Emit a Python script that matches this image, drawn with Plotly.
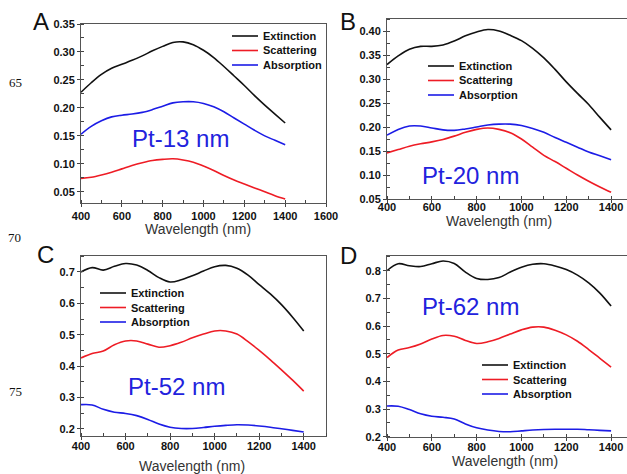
import plotly.graph_objects as go

wavelength = [400, 450, 500, 550, 600, 650, 700, 750, 800, 850, 900, 950, 1000,
              1050, 1100, 1150, 1200, 1250, 1300, 1350, 1400]

# Panel A: Pt-13 nm
a_ext = [0.228, 0.245, 0.260, 0.271, 0.278, 0.285, 0.293, 0.302, 0.310, 0.317, 0.318,
         0.313, 0.303, 0.290, 0.274, 0.257, 0.240, 0.222, 0.205, 0.189, 0.173]
a_sca = [0.074, 0.076, 0.080, 0.085, 0.091, 0.097, 0.102, 0.106, 0.108, 0.109, 0.107,
         0.103, 0.096, 0.088, 0.079, 0.071, 0.064, 0.057, 0.050, 0.043, 0.037]
a_abs = [0.153, 0.167, 0.177, 0.184, 0.187, 0.189, 0.192, 0.197, 0.203, 0.209, 0.211,
         0.211, 0.208, 0.202, 0.193, 0.182, 0.171, 0.160, 0.150, 0.142, 0.134]

# Panel B: Pt-20 nm
b_ext = [0.330, 0.348, 0.362, 0.368, 0.368, 0.371, 0.379, 0.390, 0.398, 0.403, 0.400,
         0.391, 0.380, 0.364, 0.344, 0.320, 0.294, 0.270, 0.247, 0.220, 0.194]
b_sca = [0.146, 0.153, 0.160, 0.165, 0.169, 0.174, 0.181, 0.189, 0.195, 0.198, 0.195,
         0.188, 0.175, 0.158, 0.141, 0.128, 0.114, 0.100, 0.087, 0.075, 0.064]
b_abs = [0.183, 0.195, 0.202, 0.202, 0.198, 0.194, 0.193, 0.196, 0.200, 0.204, 0.206,
         0.206, 0.203, 0.197, 0.189, 0.178, 0.168, 0.158, 0.148, 0.140, 0.132]

# Panel C: Pt-52 nm
c_ext = [0.700, 0.714, 0.706, 0.718, 0.727, 0.722, 0.705, 0.682, 0.668, 0.675, 0.688,
         0.703, 0.717, 0.721, 0.712, 0.690, 0.660, 0.630, 0.596, 0.556, 0.512]
c_sca = [0.426, 0.440, 0.448, 0.468, 0.480, 0.480, 0.470, 0.460, 0.465, 0.476, 0.490,
         0.502, 0.512, 0.512, 0.502, 0.478, 0.450, 0.420, 0.388, 0.355, 0.320]
c_abs = [0.277, 0.276, 0.262, 0.253, 0.249, 0.242, 0.230, 0.215, 0.205, 0.201, 0.201,
         0.204, 0.208, 0.211, 0.213, 0.212, 0.209, 0.205, 0.200, 0.195, 0.190]

# Panel D: Pt-62 nm
d_ext = [0.800, 0.825, 0.818, 0.815, 0.825, 0.835, 0.826, 0.795, 0.772, 0.768, 0.775,
         0.795, 0.812, 0.823, 0.825, 0.817, 0.804, 0.784, 0.756, 0.719, 0.672]
d_sca = [0.486, 0.513, 0.522, 0.535, 0.553, 0.566, 0.563, 0.548, 0.537, 0.543, 0.555,
         0.571, 0.586, 0.596, 0.596, 0.585, 0.568, 0.545, 0.515, 0.483, 0.451]
d_abs = [0.311, 0.310, 0.298, 0.283, 0.274, 0.270, 0.264, 0.246, 0.232, 0.224, 0.219,
         0.218, 0.221, 0.224, 0.226, 0.227, 0.227, 0.227, 0.225, 0.223, 0.221]

series_names = ["Extinction", "Scattering", "Absorption"]
series_colors = ["#111111", "#ee1c25", "#1c1ce6"]
panel_letters = ["A", "B", "C", "D"]
panel_labels = ["Pt-13 nm", "Pt-20 nm", "Pt-52 nm", "Pt-62 nm"]
x_title = "Wavelength (nm)"
margin_numbers = ["65", "70", "75"]

W, H = 627, 474
def px(x):
    return x / W
def py(y):
    return 1 - y / H

panels = [
    dict(data=[a_ext, a_sca, a_abs], xdom=(81, 326), ydom=(24, 203), xr=[400, 1600],
         yr=[0.03, 0.35], ydt=0.05, yfmt=".2f", xstand=0,
         legend=(232, 36), letter=(41, 21), label=(180, 138), title=(198, 229)),
    dict(data=[b_ext, b_sca, b_abs], xdom=(387, 627), ydom=(19, 199), xr=[400, 1471],
         yr=[0.05, 0.425], ydt=0.05, yfmt=".2f", xstand=-5,
         legend=(428, 66), letter=(348, 21), label=(470, 175), title=(499, 221)),
    dict(data=[c_ext, c_sca, c_abs], xdom=(81, 326), ydom=(256, 436), xr=[400, 1500],
         yr=[0.177, 0.751], ydt=0.1, yfmt=".1f", xstand=-3,
         legend=(100, 293), letter=(45, 254), label=(177, 386), title=(192, 466)),
    dict(data=[d_ext, d_sca, d_abs], xdom=(387, 627), ydom=(256, 436.7), xr=[400, 1471],
         yr=[0.2, 0.853], ydt=0.1, yfmt=".1f", xstand=-3,
         legend=(482, 365), letter=(348, 256), label=(470, 306), title=(505, 461)),
]

fig = go.Figure()
annotations = []
shapes = []
tickfont = dict(family="Arial, Liberation Sans, sans-serif", size=11, color="#111111", weight="bold")
layout_axes = {}

for i, p in enumerate(panels):
    n = "" if i == 0 else str(i + 1)
    for vals, name, col in zip(p["data"], series_names, series_colors):
        fig.add_trace(go.Scatter(x=wavelength, y=vals, mode="lines", name=name,
                                 line=dict(color=col, width=1.6, shape="spline"),
                                 xaxis="x" + n, yaxis="y" + n, showlegend=False))
    layout_axes["xaxis" + n] = dict(
        domain=[px(p["xdom"][0]), px(p["xdom"][1])], range=p["xr"], anchor="y" + n,
        tick0=400, dtick=200, ticks="outside", ticklen=3, tickcolor="#444",
        ticklabelstandoff=p["xstand"],
        showline=True, linecolor="#555", linewidth=1, mirror=True, automargin=False,
        showgrid=False, zeroline=False, tickfont=tickfont,
        minor=dict(ticks="inside", ticklen=3, dtick=100, tickcolor="#444", showgrid=False))
    layout_axes["yaxis" + n] = dict(
        domain=[py(p["ydom"][1]), py(p["ydom"][0])], range=p["yr"], anchor="x" + n,
        dtick=p["ydt"], tick0=0, tickformat=p["yfmt"], ticks="outside", ticklen=3,
        tickcolor="#444", showline=True, linecolor="#555", linewidth=1, mirror=True,
        automargin=False, showgrid=False, zeroline=False, tickfont=tickfont,
        minor=dict(ticks="inside", ticklen=3, dtick=p["ydt"] / 2, tickcolor="#444",
                   showgrid=False))
    lx, ly = p["legend"]
    for k, (name, col) in enumerate(zip(series_names, series_colors)):
        yy = ly + k * 14.5
        shapes.append(dict(type="line", xref="paper", yref="paper",
                           x0=px(lx), x1=px(lx + 26), y0=py(yy), y1=py(yy),
                           line=dict(color=col, width=1.6)))
        annotations.append(dict(text=name, xref="paper", yref="paper", x=px(lx + 29),
                                y=py(yy), xanchor="left", yanchor="middle", showarrow=False,
                                font=dict(family="Arial, Liberation Sans, sans-serif",
                                          size=11, color="#111111", weight="bold")))
    annotations.append(dict(text=panel_letters[i], xref="paper", yref="paper",
                            x=px(p["letter"][0]), y=py(p["letter"][1]), xanchor="center",
                            yanchor="middle", showarrow=False,
                            font=dict(family="Arial, Liberation Sans, sans-serif", size=24,
                                      color="#111111")))
    annotations.append(dict(text=panel_labels[i], xref="paper", yref="paper",
                            x=px(p["label"][0]), y=py(p["label"][1]), xanchor="center",
                            yanchor="middle", showarrow=False,
                            font=dict(family="Arial, Liberation Sans, sans-serif", size=24,
                                      color="#2222dd")))
    annotations.append(dict(text=x_title, xref="paper", yref="paper",
                            x=px(p["title"][0]), y=py(p["title"][1]), xanchor="center",
                            yanchor="middle", showarrow=False,
                            font=dict(family="Arial, Liberation Sans, sans-serif", size=14,
                                      color="#333333")))

for txt, (mx, my) in zip(margin_numbers, [(15, 83), (14, 237), (15, 391)]):
    annotations.append(dict(text=txt, xref="paper", yref="paper", x=px(mx), y=py(my),
                            xanchor="center", yanchor="middle", showarrow=False,
                            font=dict(family="Liberation Serif, Times New Roman, serif",
                                      size=13, color="#111111")))

fig.update_layout(width=W, height=H, margin=dict(l=0, r=0, t=0, b=0, pad=0),
                  paper_bgcolor="white", plot_bgcolor="white",
                  annotations=annotations, shapes=shapes, **layout_axes)

fig.write_html("out.html", config={"displayModeBar": False},
               post_script="document.body.style.margin='0';document.body.style.padding='0';document.body.style.overflow='hidden';")
